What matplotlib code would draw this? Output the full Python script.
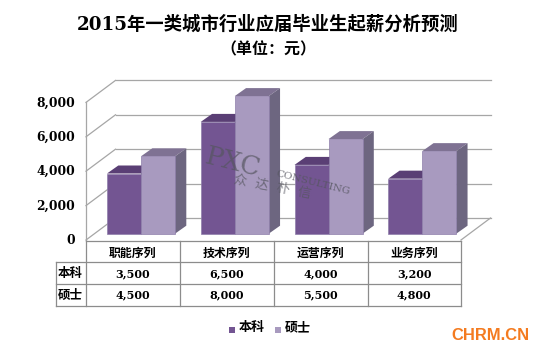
import matplotlib
matplotlib.use("Agg")
import matplotlib.pyplot as plt
from matplotlib.lines import Line2D
from matplotlib.patches import Polygon, Rectangle

categories = ["职能序列", "技术序列", "运营序列", "业务序列"]
bachelor = [3500, 6500, 4000, 3200]
master = [4500, 8000, 5500, 4800]
series_names = ["本科", "硕士"]
y_ticks = [0, 2000, 4000, 6000, 8000]

W, H = 540, 354
FONT = ["DejaVu Serif", "Noto Sans CJK SC", "DejaVu Sans"]
plt.rcParams["font.family"] = FONT

fig = plt.figure(figsize=(W / 100, H / 100), dpi=100, facecolor="white")
ax = fig.add_axes([0, 0, 1, 1])
ax.axis("off")

# pixel geometry of the pseudo-3D plot
X0, UX = 86.0, 93.75      # px of category 0, px per category
BASE, UY = 233.7, 0.0172  # px of value 0 at bar base, px per unit
ax.set_xlim((0 - X0) / UX, (W - X0) / UX)
ax.set_ylim((BASE - H) / UY, BASE / UY)

front_dy = -6.3 / UY
back_dy = 15.7 / UY
wall_dx = 29.5 / UX
bar_dx = 11.3 / UX
bar_dy = 8.0 / UY
bar_off = 21.0 / UX
bar_w = 34.0 / UX
n = len(categories)
GRID = "#A6A6A6"

# walls and gridlines
for v in y_ticks:
    ax.plot([0, wall_dx], [v + front_dy, v + back_dy], color=GRID, lw=0.9, zorder=1)
    ax.plot([wall_dx, n + wall_dx], [v + back_dy, v + back_dy], color=GRID, lw=0.9, zorder=1)
ax.plot([0, 0], [front_dy, 8000 + front_dy], color=GRID, lw=0.9, zorder=1)
ax.plot([n, n + wall_dx], [front_dy, back_dy], color=GRID, lw=0.9, zorder=1)

# bars
styles = [("#735592", "#5A3F75", "#4E4A60"), ("#A89ABF", "#7F7293", "#6D6680")]
for i, (vals, (fc, tc, sc)) in enumerate(zip([bachelor, master], styles)):
    z = 3 + i
    xs = [k + bar_off + i * bar_w for k in range(n)]
    ax.bar(xs, vals, width=bar_w, align="edge", color=fc, edgecolor="#8F7FAB",
           linewidth=0.5, zorder=z + 0.5)
    for x, v in zip(xs, vals):
        ax.add_patch(Polygon([(x, v), (x + bar_w, v), (x + bar_w + bar_dx, v + bar_dy),
                              (x + bar_dx, v + bar_dy)], closed=True, fc=tc, ec="none", zorder=z))
        ax.add_patch(Polygon([(x + bar_w, 0), (x + bar_w + bar_dx, bar_dy),
                              (x + bar_w + bar_dx, v + bar_dy), (x + bar_w, v)],
                             closed=True, fc=sc, ec="none", zorder=z))


def fx(x):
    return x / W


def fy(y):
    return 1 - y / H


def ptext(x, y, s, size, **kw):
    kw.setdefault("ha", "center")
    kw.setdefault("va", "center")
    kw.setdefault("fontweight", "bold")
    kw.setdefault("color", "black")
    return fig.text(fx(x), fy(y), s, fontsize=size, zorder=20, **kw)


def pline(xs, ys, color="#8C8C8C", lw=0.9):
    fig.add_artist(Line2D([fx(x) for x in xs], [fy(y) for y in ys], color=color, lw=lw, zorder=10))


# y tick labels
for v in y_ticks:
    ptext(75, BASE + 6.3 - v * UY + 0.5, f"{v:,}", 8.8, ha="right")

# titles
ptext(267.5, 24, "2015年一类城市行业应届毕业生起薪分析预测", 13.2)
ptext(268, 50, "（单位：元）", 11.5)

# data table
col_x = [85.5, 179.5, 273.5, 367.5, 461.0]
row_y = [240.5, 262.3, 284.3, 306.3]
left_x = 55.5
pline([col_x[0], col_x[-1]], [row_y[0], row_y[0]])
for y in row_y[1:]:
    pline([left_x, col_x[-1]], [y, y])
for x in col_x:
    pline([x, x], [row_y[0], row_y[-1]])
pline([left_x, left_x], [row_y[1], row_y[-1]])
for k, c in enumerate(categories):
    cx = (col_x[k] + col_x[k + 1]) / 2
    ptext(cx, 253.5, c, 8.6)
    ptext(cx, 273.5, f"{bachelor[k]:,}", 8)
    ptext(cx, 295, f"{master[k]:,}", 8)
ptext(70.5, 273.5, series_names[0], 9)
ptext(70.5, 295.5, series_names[1], 9)

# legend
for x, name, (fc, _, _) in zip([229, 274.5], series_names, styles):
    fig.add_artist(Rectangle((fx(x), fy(333)), 6 / W, 6.5 / H, transform=fig.transFigure,
                             fc=fc, ec="none", zorder=10))
    ptext(x + 10, 327.5, name, 9.4, ha="left")

# watermarks
WM = "#55555F"
ptext(233, 163, "PXC", 19, rotation=-14, color=WM, alpha=0.7, fontweight="normal",
      rotation_mode="anchor")
ptext(313, 183, "CONSULTING", 7.5, rotation=-14, color=WM, alpha=0.8, fontweight="normal",
      rotation_mode="anchor")
ptext(272, 187, "众  达  朴  信", 9.5, rotation=-11, color=WM, alpha=0.7, fontweight="normal",
      rotation_mode="anchor")
ptext(490.5, 336, "CHRM.CN", 11.9, color="#F47B20", family=["Liberation Sans"])

fig.savefig("out.png", dpi=100)
